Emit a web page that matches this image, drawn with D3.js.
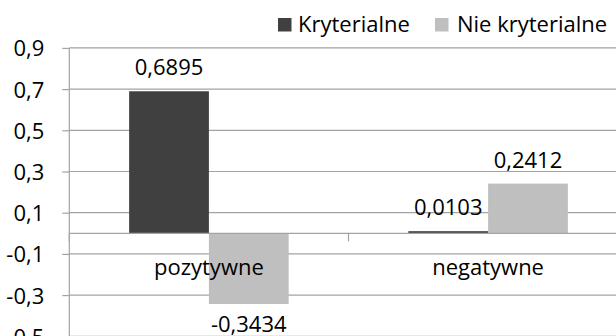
<!DOCTYPE html>
<html>
<head>
<meta charset="utf-8">
<script src="https://cdn.jsdelivr.net/npm/d3@7"></script>
<style>
  html, body { margin: 0; padding: 0; background: #ffffff; }
  svg { display: block; font-family: "Open Sans", "Noto Sans", sans-serif; }
</style>
</head>
<body>
<svg id="chart" width="616" height="336"></svg>
<script>
// Categories, series and their values
const categories = ["pozytywne", "negatywne"];
const seriesNames = ["Kryterialne", "Nie kryterialne"];
const kryterialne = [0.6895, 0.0103];
const nieKryterialne = [-0.3434, 0.2412];
const yTicks = [0.9, 0.7, 0.5, 0.3, 0.1, -0.1, -0.3, -0.5];

const colors = ["#404040", "#bfbfbf"];
const gridColor = "#a3a3a3";

const pl = d3.formatLocale({ decimal: ",", thousands: " ", grouping: [3], currency: ["", " zł"], minus: "-" });
const fmtTick = pl.format(".1f");
const fmtVal = pl.format(".4f");

const svg = d3.select("#chart");
const plotLeft = 69.3, plotRight = 627.7, plotTop = 47.9, plotBottom = 336.3;

const y = d3.scaleLinear().domain([-0.5, 0.9]).range([plotBottom, plotTop]);
const x0 = d3.scaleBand().domain(categories).range([plotLeft, plotRight]).padding(0);
const x1 = d3.scaleBand().domain(seriesNames).range([0, x0.bandwidth()])
  .paddingInner(0).paddingOuter(0.75);

// horizontal gridlines
svg.append("g").selectAll("line").data(yTicks).join("line")
  .attr("x1", plotLeft).attr("x2", 616)
  .attr("y1", d => y(d)).attr("y2", d => y(d))
  .attr("stroke", gridColor).attr("stroke-width", 1.2);

// value axis with tick marks
const yAxis = svg.append("g").attr("transform", `translate(${plotLeft},0)`)
  .call(d3.axisLeft(y).tickValues(yTicks).tickFormat(fmtTick).tickSize(7).tickPadding(18));
yAxis.select(".domain").attr("stroke", gridColor).attr("stroke-width", 1.2)
  .attr("d", `M0,${plotTop}V${plotBottom + 5}`);
yAxis.selectAll(".tick line").attr("stroke", gridColor).attr("stroke-width", 1.2);
yAxis.selectAll(".tick text").attr("fill", "#000").attr("font-size", 22)
  .attr("font-family", "'Open Sans', sans-serif").attr("dy", "0.36em");

// bars
const data = categories.map((c, i) => ({ cat: c, vals: [kryterialne[i], nieKryterialne[i]] }));
const groups = svg.append("g").selectAll("g").data(data).join("g")
  .attr("transform", d => `translate(${x0(d.cat)},0)`);
groups.selectAll("rect").data(d => d.vals.map((v, j) => ({ v, s: seriesNames[j], j })))
  .join("rect")
  .attr("x", d => x1(d.s)).attr("width", x1.bandwidth())
  .attr("y", d => y(Math.max(0, d.v)))
  .attr("height", d => Math.abs(y(d.v) - y(0)))
  .attr("fill", d => colors[d.j]);

// category axis along zero
svg.append("line").attr("x1", plotLeft).attr("x2", 616)
  .attr("y1", y(0)).attr("y2", y(0))
  .attr("stroke", gridColor).attr("stroke-width", 1.2);
const bounds = categories.map(c => x0(c)).concat([plotRight]);
svg.append("g").selectAll("line").data(bounds).join("line")
  .attr("x1", d => d).attr("x2", d => d)
  .attr("y1", y(0)).attr("y2", y(0) + 8)
  .attr("stroke", gridColor).attr("stroke-width", 1.2);
svg.append("g").selectAll("text").data(categories).join("text")
  .attr("x", d => x0(d) + x0.bandwidth() / 2).attr("y", 275)
  .attr("text-anchor", "middle").attr("font-size", 22).attr("fill", "#000")
  .text(d => d);

// value labels
groups.selectAll("text").data(d => d.vals.map((v, j) => ({ v, s: seriesNames[j], j })))
  .join("text")
  .attr("x", d => x1(d.s) + x1.bandwidth() / 2)
  .attr("y", d => d.v >= 0 ? y(d.v) - 16 : y(d.v) + 27.5)
  .attr("text-anchor", "middle").attr("font-size", 22).attr("fill", "#000")
  .text(d => fmtVal(d.v));

// legend
const legendX = [278, 435];
const leg = svg.append("g").selectAll("g").data(seriesNames).join("g")
  .attr("transform", (d, i) => `translate(${legendX[i]},18)`);
leg.append("rect").attr("width", 13.5).attr("height", 13.5).attr("fill", (d, i) => colors[i]);
leg.append("text").attr("x", (d, i) => i === 0 ? 20 : 22).attr("y", 14.3)
  .attr("font-size", 22).attr("fill", "#000").text(d => d);
</script>
</body>
</html>
